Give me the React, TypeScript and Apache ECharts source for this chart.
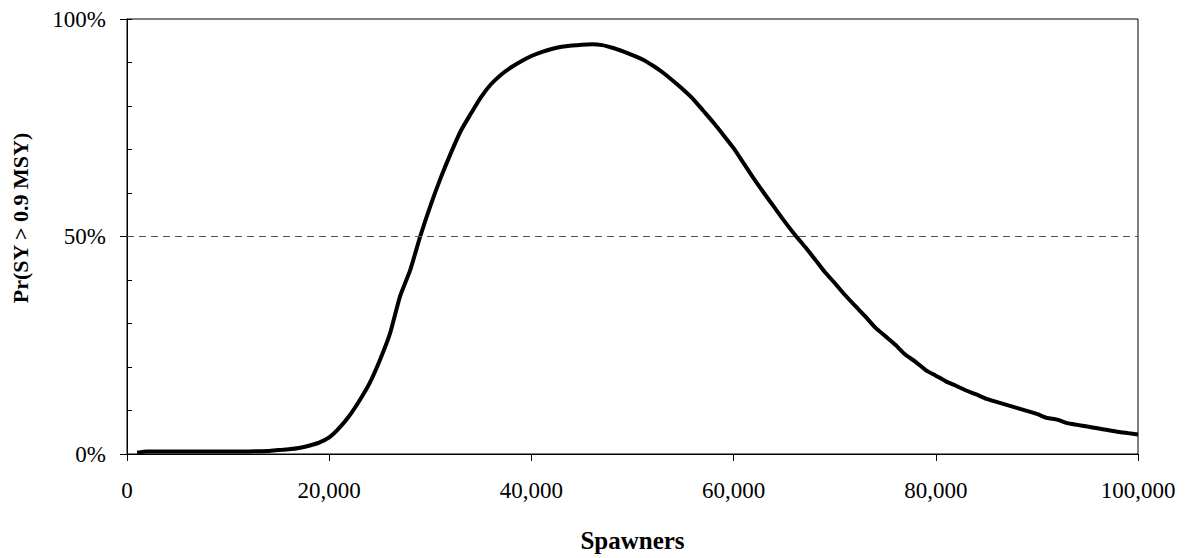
import { useEffect, useRef } from 'react';
import * as echarts from 'echarts';

// spawners (x) and probability in % (y)
const spawners = [
  1000, 2000, 4000, 6000, 8000, 10000, 12000, 14000, 15000, 16000, 17000, 18000, 19000, 20000,
  21000, 22000, 23000, 24000, 25000, 26000, 27000, 28000, 29000, 30000, 31000, 32000, 33000,
  34000, 35000, 36000, 37000, 38000, 39000, 40000, 41000, 42000, 43000, 44000, 45000, 46000,
  47000, 48000, 49000, 50000, 51000, 52000, 53000, 54000, 55000, 56000, 57000, 58000, 59000,
  60000, 61000, 62000, 63000, 64000, 65000, 66000, 67000, 68000, 69000, 70000, 71000, 72000,
  73000, 74000, 75000, 76000, 77000, 78000, 79000, 80000, 81000, 82000, 83000, 84000, 85000,
  86000, 87000, 88000, 89000, 90000, 91000, 92000, 93000, 94000, 95000, 96000, 97000, 98000,
  99000, 100000,
];
const probability = [
  0.3, 0.6, 0.6, 0.6, 0.6, 0.6, 0.6, 0.7, 0.9, 1.1, 1.4, 1.9, 2.6, 3.8,
  6.0, 8.8, 12.3, 16.3, 21.5, 27.6, 36.2, 42.2, 50.0, 57.0, 63.3, 69.0, 74.2,
  78.2, 82.0, 85.0, 87.2, 88.9, 90.3, 91.5, 92.4, 93.1, 93.6, 93.9, 94.1, 94.2,
  94.0, 93.4, 92.6, 91.7, 90.7, 89.3, 87.7, 85.8, 83.8, 81.6, 78.9, 76.2, 73.3,
  70.3, 66.8, 63.3, 60.0, 56.8, 53.6, 50.6, 47.8, 44.9, 41.9, 39.3, 36.6, 34.1,
  31.7, 29.1, 27.1, 25.1, 22.8, 21.2, 19.3, 18.0, 16.7, 15.7, 14.6, 13.7, 12.7,
  12.0, 11.3, 10.6, 9.9, 9.2, 8.3, 7.9, 7.1, 6.7, 6.3, 5.9, 5.5, 5.1,
  4.8, 4.5,
];

const referenceLevel = 50; // dashed line, %
const xTitle = 'Spawners';
const yTitle = 'Pr(SY > 0.9 MSY)';

const FONT = '"Liberation Serif", "Times New Roman", serif';

export default function App() {
  const chartRef = useRef<HTMLDivElement>(null);

  useEffect(() => {
    if (!chartRef.current) return;
    const chart = echarts.init(chartRef.current, undefined, { renderer: 'svg' });

    chart.setOption({
      animation: false,
      backgroundColor: '#fff',
      grid: {
        left: 127,
        right: 53,
        top: 19,
        bottom: 104,
        show: true,
        borderColor: '#000',
        borderWidth: 1,
      },
      xAxis: {
        type: 'value',
        min: 0,
        max: 100000,
        interval: 20000,
        name: xTitle,
        nameLocation: 'middle',
        nameGap: 74,
        nameTextStyle: { fontFamily: FONT, fontSize: 25, fontWeight: 'bold', color: '#000' },
        axisLine: { show: true, lineStyle: { color: '#000', width: 1 } },
        axisTick: { show: true, length: 7, lineStyle: { color: '#000' } },
        axisLabel: {
          fontFamily: FONT,
          fontSize: 23,
          color: '#000',
          margin: 25,
          formatter: (v: number) => v.toLocaleString('en-US'),
        },
        splitLine: { show: false },
      },
      yAxis: [
        {
          type: 'value',
          min: 0,
          max: 100,
          interval: 50,
          axisLine: { show: true, lineStyle: { color: '#000', width: 1 } },
          axisTick: { show: true, length: 7, lineStyle: { color: '#000' } },
          axisLabel: {
            fontFamily: FONT,
            fontSize: 23,
            color: '#000',
            margin: 21,
            formatter: '{value}%',
          },
          splitLine: { show: false },
        },
        {
          // minor ticks pointing inside at every 10%
          type: 'value',
          position: 'left',
          min: 0,
          max: 100,
          interval: 10,
          axisLine: { show: false },
          axisTick: { show: true, inside: true, length: 5, lineStyle: { color: '#000' } },
          axisLabel: { show: false },
          splitLine: { show: false },
        },
      ],
      graphic: [
        {
          type: 'text',
          x: 20,
          y: 218,
          rotation: Math.PI / 2,
          style: {
            text: yTitle,
            fontFamily: FONT,
            fontSize: 22,
            fontWeight: 'bold',
            fill: '#000',
            align: 'center',
            verticalAlign: 'middle',
          },
        },
      ],
      series: [
        {
          type: 'line',
          yAxisIndex: 0,
          data: spawners.map((s, i) => [s, probability[i]]),
          showSymbol: false,
          smooth: 0.2,
          lineStyle: { color: '#000', width: 4 },
          markLine: {
            silent: true,
            symbol: 'none',
            label: { show: false },
            lineStyle: { color: '#555', type: [7, 5], width: 1 },
            data: [{ yAxis: referenceLevel }],
          },
          z: 3,
        },
      ],
    });

    return () => {
      chart.dispose();
    };
  }, []);

  return (
    <div
      ref={chartRef}
      style={{ position: 'fixed', left: 0, top: 0, width: 1191, height: 558 }}
    />
  );
}
